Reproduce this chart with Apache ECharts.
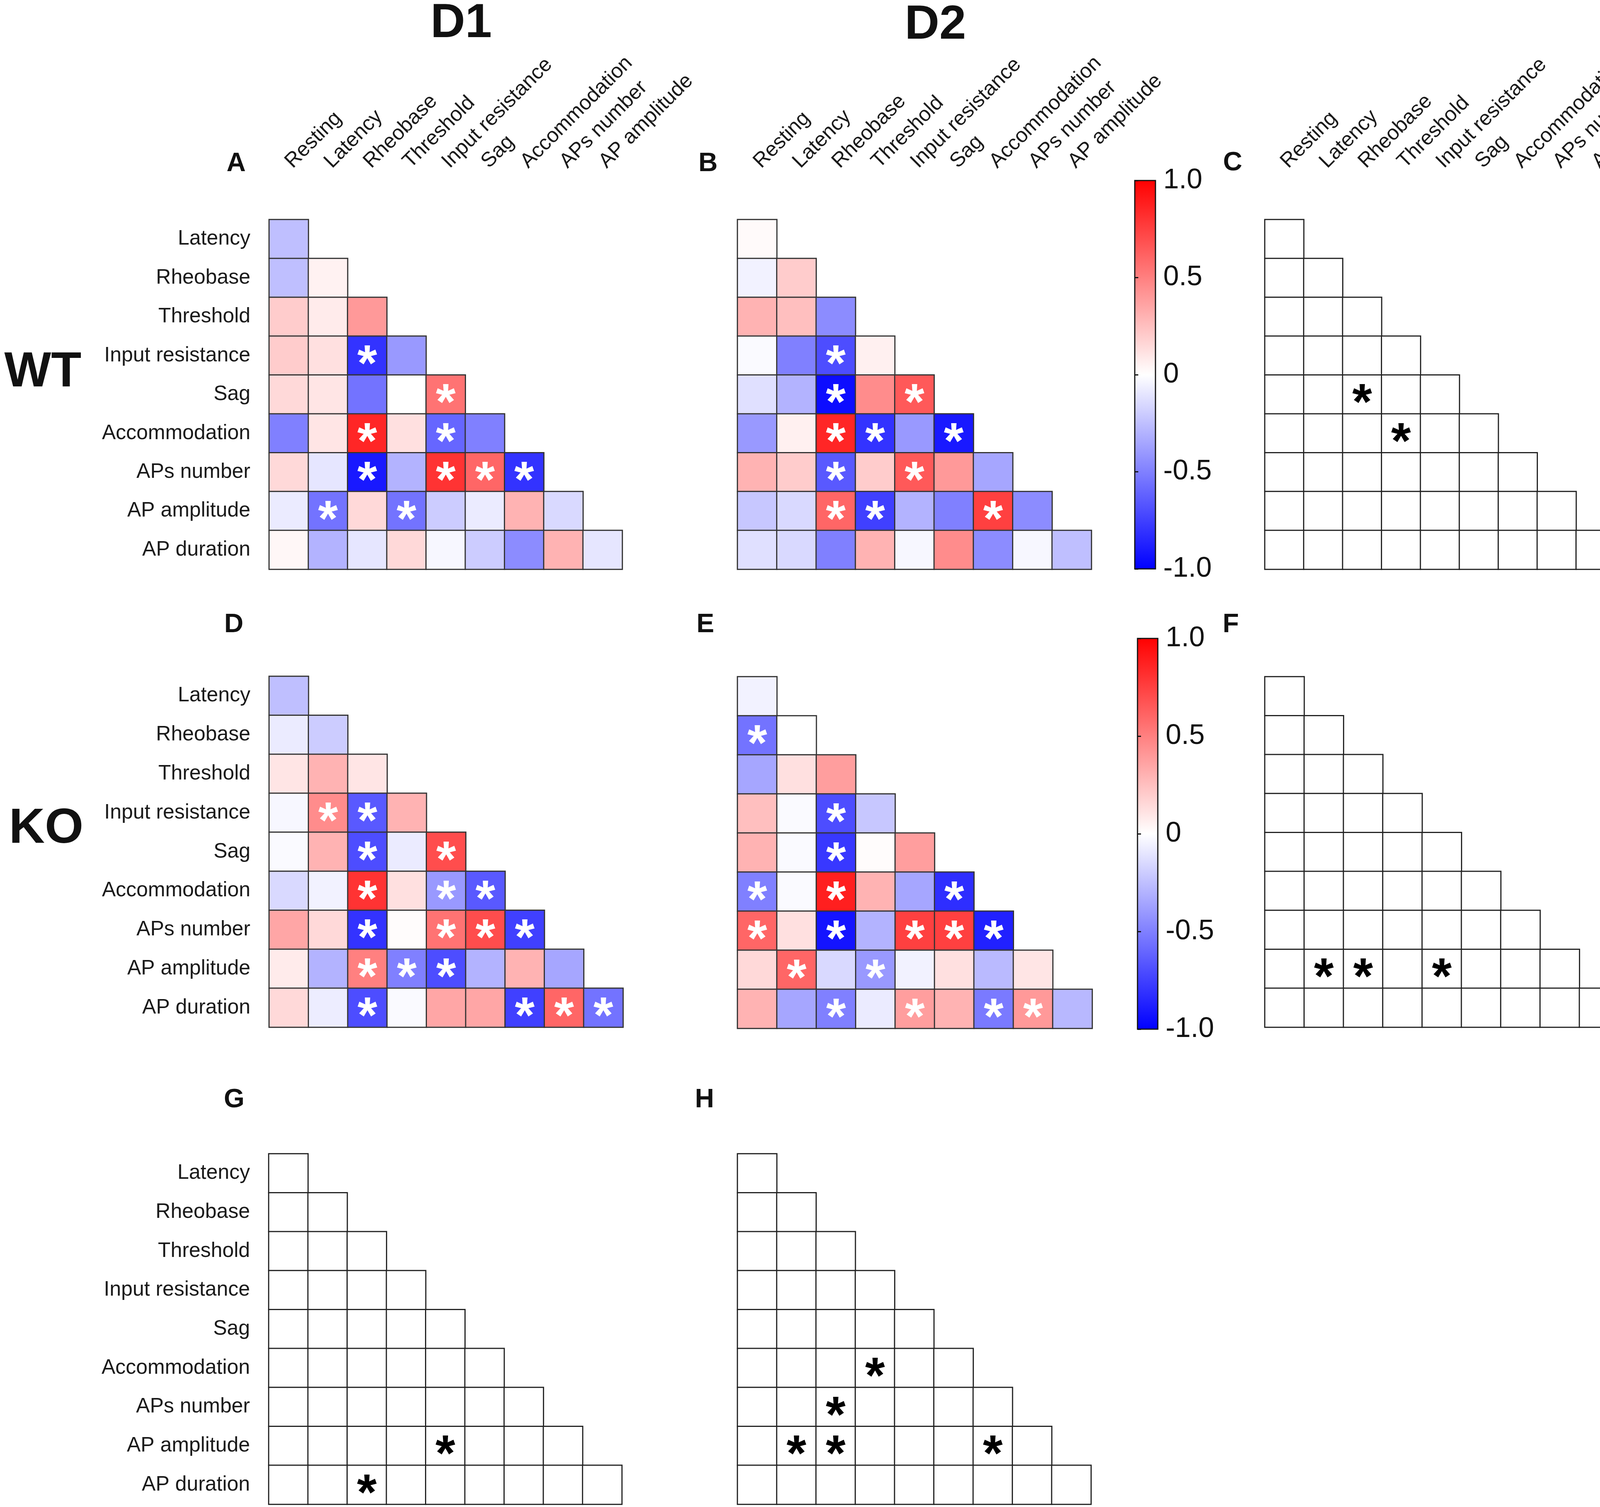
<!DOCTYPE html>
<html>
<head>
<meta charset="utf-8">
<script src="https://cdn.jsdelivr.net/npm/echarts@6/dist/echarts.min.js"></script>
<style>
html,body{margin:0;padding:0;background:#fff;}
#chart{width:4328px;height:3857px;}
</style>
</head>
<body>
<div id="chart"></div>
<script>
// ---------- categories ----------
const xCats = ['Resting','Latency','Rheobase','Threshold','Input resistance','Sag','Accommodation','APs number','AP amplitude'];
const yCats = ['Latency','Rheobase','Threshold','Input resistance','Sag','Accommodation','APs number','AP amplitude','AP duration'];
const colorbarTicks = [-1, -0.5, 0, 0.5, 1];

// ---------- correlation values (lower triangle, row by row) ----------
const wtD1 = [
  [-0.25],
  [-0.25, 0.05],
  [0.2, 0.08, 0.4],
  [0.2, 0.12, -0.8, -0.4],
  [0.15, 0.1, -0.55, 0.0, 0.55],
  [-0.5, 0.1, 0.85, 0.12, -0.6, -0.5],
  [0.15, -0.1, -0.9, -0.3, 0.8, 0.6, -0.8],
  [-0.08, -0.55, 0.15, -0.55, -0.2, -0.08, 0.3, -0.15],
  [0.03, -0.3, -0.1, 0.15, -0.03, -0.2, -0.45, 0.3, -0.1]
];
const wtD2 = [
  [0.02],
  [-0.05, 0.2],
  [0.3, 0.25, -0.45],
  [-0.02, -0.5, -0.7, 0.06],
  [-0.12, -0.3, -0.95, 0.45, 0.65],
  [-0.4, 0.06, 0.85, -0.8, -0.4, -0.9],
  [0.3, 0.2, -0.65, 0.2, 0.65, 0.4, -0.35],
  [-0.22, -0.15, 0.6, -0.75, -0.3, -0.5, 0.75, -0.45],
  [-0.12, -0.15, -0.5, 0.3, -0.03, 0.45, -0.45, -0.03, -0.25]
];
const koD1 = [
  [-0.25],
  [-0.08, -0.2],
  [0.1, 0.3, 0.1],
  [-0.03, 0.45, -0.65, 0.3],
  [-0.02, 0.3, -0.7, -0.08, 0.7],
  [-0.15, -0.05, 0.8, 0.12, -0.4, -0.65],
  [0.35, 0.15, -0.8, 0.01, 0.55, 0.7, -0.75],
  [0.08, -0.3, 0.5, -0.5, -0.7, -0.3, 0.3, -0.35],
  [0.15, -0.07, -0.7, -0.02, 0.35, 0.35, -0.75, 0.6, -0.55]
];
const koD2 = [
  [-0.05],
  [-0.55, 0.0],
  [-0.35, 0.12, 0.38],
  [0.25, -0.02, -0.7, -0.22],
  [0.3, -0.02, -0.78, 0.01, 0.38],
  [-0.5, -0.02, 0.88, 0.3, -0.35, -0.82],
  [0.6, 0.12, -0.92, -0.3, 0.75, 0.75, -0.87],
  [0.15, 0.6, -0.15, -0.4, -0.05, 0.12, -0.27, 0.1],
  [0.3, -0.35, -0.5, -0.08, 0.38, 0.3, -0.52, 0.4, -0.28]
];

// ---------- significance marks [column, row] ----------
const sigWtD1 = [[2,3],[4,4],[2,5],[4,5],[2,6],[4,6],[5,6],[6,6],[1,7],[3,7]];
const sigWtD2 = [[2,3],[2,4],[4,4],[2,5],[3,5],[5,5],[2,6],[4,6],[2,7],[3,7],[6,7]];
const sigKoD1 = [[1,3],[2,3],[2,4],[4,4],[2,5],[4,5],[5,5],[2,6],[4,6],[5,6],[6,6],[2,7],[3,7],[4,7],[2,8],[6,8],[7,8],[8,8]];
const sigKoD2 = [[0,1],[2,3],[2,4],[0,5],[2,5],[5,5],[0,6],[2,6],[4,6],[5,6],[6,6],[1,7],[3,7],[2,8],[4,8],[6,8],[7,8]];
const sigC = [[2,4],[3,5]];
const sigF = [[1,7],[2,7],[4,7]];
const sigG = [[4,7],[2,8]];
const sigH = [[3,5],[2,6],[1,7],[2,7],[6,7]];

// ---------- helpers ----------
function isSig(sig, c, r){ return sig.some(p => p[0] === c && p[1] === r); }
function corrCells(mat, sig){
  const out = [];
  mat.forEach((row, r) => row.forEach((v, c) => {
    out.push({ value: [c, r, v], label: { show: isSig(sig, c, r) } });
  }));
  return out;
}
function blankCells(sig){
  const out = [];
  yCats.forEach((_, r) => {
    for (let c = 0; c <= r; c++) out.push({ value: [c, r, 0], label: { show: isSig(sig, c, r) } });
  });
  return out;
}

const FONT = 'Liberation Sans, Arial, Helvetica, sans-serif';
const grids = [
  { left: 689,  top: 562,  width: 904, height: 895 }, // A
  { left: 1888, top: 562,  width: 906, height: 895 }, // B
  { left: 3238, top: 562,  width: 905, height: 895 }, // C
  { left: 689,  top: 1731, width: 906, height: 898 }, // D
  { left: 1888, top: 1732, width: 908, height: 900 }, // E
  { left: 3238, top: 1732, width: 906, height: 897 }, // F
  { left: 688,  top: 2953, width: 904, height: 897 }, // G
  { left: 1888, top: 2953, width: 905, height: 897 }, // H
  { left: 2905, top: 462,  width: 53,  height: 994, show: true, borderColor: '#111', borderWidth: 3,
    backgroundColor: { type: 'linear', x: 0, y: 0, x2: 0, y2: 1,
      colorStops: [{offset: 0, color: '#ff0000'}, {offset: 0.5, color: '#ffffff'}, {offset: 1, color: '#0000ff'}] } },
  { left: 2912, top: 1634, width: 52,  height: 1000, show: true, borderColor: '#111', borderWidth: 3,
    backgroundColor: { type: 'linear', x: 0, y: 0, x2: 0, y2: 1,
      colorStops: [{offset: 0, color: '#ff0000'}, {offset: 0.5, color: '#ffffff'}, {offset: 1, color: '#0000ff'}] } }
];

const showX = [true, true, true, false, false, false, false, false];
const showY = [true, false, false, true, false, false, true, false];

const xAxes = [], yAxes = [];
for (let i = 0; i < 8; i++) {
  xAxes.push({
    type: 'category', gridIndex: i, data: xCats, position: 'top',
    axisLine: { show: false }, axisTick: { show: false }, splitLine: { show: false },
    axisLabel: { show: showX[i], rotate: -45, margin: 140, interval: 0,
      fontSize: 53, fontFamily: FONT, color: '#1a1a1a' }
  });
  yAxes.push({
    type: 'category', gridIndex: i, data: yCats, inverse: true,
    axisLine: { show: false }, axisTick: { show: false }, splitLine: { show: false },
    axisLabel: { show: showY[i], margin: 48, interval: 0,
      fontSize: 53, fontFamily: FONT, color: '#1a1a1a' }
  });
}
// colorbar axes
[8, 9].forEach(g => {
  xAxes.push({ type: 'value', gridIndex: g, show: false, min: 0, max: 1 });
  yAxes.push({
    type: 'value', gridIndex: g, min: -1, max: 1, interval: 0.5, position: 'right',
    axisLine: { show: false }, splitLine: { show: false },
    axisTick: { show: true, length: 9, lineStyle: { color: '#111', width: 3 } },
    axisLabel: { show: true, margin: 20, fontSize: 72, fontFamily: FONT, color: '#111',
      customValues: colorbarTicks,
      formatter: v => v === 0 ? '0' : (v < 0 ? '-' + Math.abs(v).toFixed(1) : v.toFixed(1)) }
  });
  yAxes.push({
    type: 'value', gridIndex: g, min: -1, max: 1, interval: 0.5, position: 'left',
    axisLine: { show: false }, splitLine: { show: false }, axisLabel: { show: false },
    axisTick: { show: true, inside: true, length: 9, lineStyle: { color: '#111', width: 3 } }
  });
});

function heat(idx, data, colored) {
  return {
    type: 'heatmap', xAxisIndex: idx, yAxisIndex: idx, data: data,
    itemStyle: colored ? { borderColor: '#333', borderWidth: 3 } : { color: '#ffffff', borderColor: '#222', borderWidth: 3 },
    label: { show: false, formatter: '*', fontSize: 130, fontWeight: 'bold', fontFamily: FONT,
      color: colored ? '#ffffff' : '#000000', offset: [0, 28] },
    emphasis: { disabled: true }
  };
}

const series = [
  heat(0, corrCells(wtD1, sigWtD1), true),
  heat(1, corrCells(wtD2, sigWtD2), true),
  heat(2, blankCells(sigC), false),
  heat(3, corrCells(koD1, sigKoD1), true),
  heat(4, corrCells(koD2, sigKoD2), true),
  heat(5, blankCells(sigF), false),
  heat(6, blankCells(sigG), false),
  heat(7, blankCells(sigH), false)
];

function t(text, left, top, size) {
  return { text: text, left: left, top: top, padding: 0,
    textStyle: { fontSize: size, fontWeight: 'bold', fontFamily: FONT, color: '#111' } };
}
const titles = [
  t('D1', 1102, 0, 123), t('D2', 2316, 4, 123),
  t('WT', 11, 890, 127), t('KO', 23, 2058, 127),
  t('A', 580, 385, 68), t('B', 1788, 385, 68), t('C', 3131, 383, 68),
  t('D', 574, 1565, 68), t('E', 1783, 1565, 68), t('F', 3130, 1565, 68),
  t('G', 573, 2781, 68), t('H', 1779, 2781, 68)
];

const chart = echarts.init(document.getElementById('chart'), null, { renderer: 'canvas' });
chart.setOption({
  animation: false,
  backgroundColor: '#ffffff',
  title: titles,
  grid: grids,
  xAxis: xAxes,
  yAxis: yAxes,
  visualMap: {
    type: 'continuous', show: false, min: -1, max: 1, dimension: 2,
    seriesIndex: [0, 1, 3, 4],
    inRange: { color: ['#0000ff', '#ffffff', '#ff0000'] }
  },
  series: series
});
</script>
</body>
</html>
